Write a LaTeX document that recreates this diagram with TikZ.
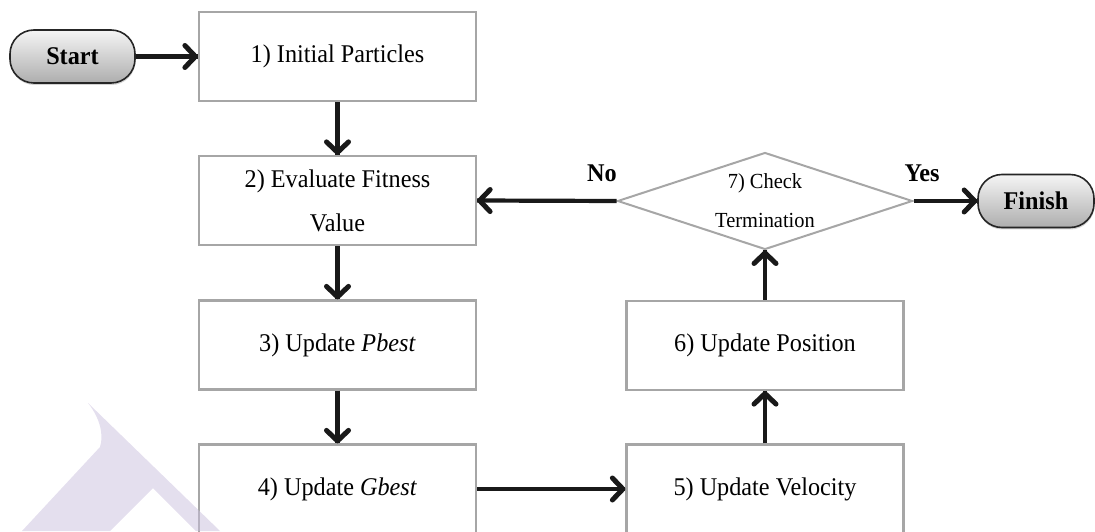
\documentclass[tikz,border=0pt]{standalone}
\usepackage{fontspec}
\setmainfont{Liberation Serif}
\newfontfamily\cond[FakeStretch=0.95]{Liberation Serif}
\usetikzlibrary{shapes.geometric,shadows,decorations.markings}
\definecolor{boxgray}{HTML}{A6A6A6}
\definecolor{wmark}{RGB}{201,191,221}
\begin{document}
\begin{tikzpicture}[x=1pt,y=1pt,
  stepbox/.style={draw=boxgray, line width=2.2pt, fill=white, minimum width=277pt, minimum height=89pt, inner sep=0pt, align=center, font=\cond\fontsize{25.5}{46}\selectfont},
  term/.style={draw=black!85, line width=1.6pt, rounded corners=24pt, top color=black!4, bottom color=black!32, minimum height=53pt, inner sep=0pt, font=\cond\fontsize{25.5}{28}\selectfont\bfseries, drop shadow={shadow xshift=0.5pt, shadow yshift=-2pt, opacity=0.35}},
  dec/.style={diamond, shape aspect=3.04, draw=boxgray, line width=2pt, fill=white, minimum width=295pt, minimum height=97pt, inner sep=0pt, align=center, font=\cond\fontsize{21.5}{39}\selectfont},
  arr/.style={line width=4.2pt, draw=black!90,
    postaction={decorate, decoration={markings, mark=at position 1 with {\draw[black!90, line width=5pt, line cap=round, line join=round] (-13pt,11pt) -- (-2.5pt,0pt) -- (-13pt,-11pt);}}}},
  lbl/.style={font=\cond\fontsize{25.5}{28}\selectfont\bfseries}
]
\useasboundingbox (0,0) rectangle (1095,531);

\node[term, minimum width=125pt] (start) at (72.5,474.5) {Start};
\node[stepbox] (b1) at (337.5,474.5) {1) Initial Particles};
\node[stepbox] (b2) at (337.5,330.5) {\raisebox{-2pt}{2) Evaluate Fitness}\\Value};
\node[stepbox] (b3) at (337.5,186) {3) Update \textit{Pbest}};
\node[stepbox] (b4) at (337.5,42) {4) Update \textit{Gbest}};
\node[stepbox] (b5) at (765,42) {5) Update Velocity};
\node[stepbox] (b6) at (765,185.5) {6) Update Position};
\node[dec] (d7) at (765,330) {7) Check\\Termination};
\node[term, minimum width=116pt] (fin) at (1036,330) {Finish};
\node[lbl] (no) at (602,358) {No};
\node[lbl] (yes) at (922,358) {Yes};

\draw[arr] (start.east) -- (b1.west);
\draw[arr] (b1.south) -- (b2.north);
\draw[arr] (b2.south) -- (b3.north);
\draw[arr] (b3.south) -- (b4.north);
\draw[arr] (b4.east) -- (b5.west);
\draw[arr] (b5.north) -- (b6.south);
\draw[arr] (b6.north) -- (d7.south);
\draw[arr] (d7.west) -- (b2.east);
\draw[arr] (d7.east) -- (fin.west);

% faint watermark
\fill[wmark, opacity=0.5] (88,128) .. controls (100,113) and (104,96) .. (100,84)
  -- (22,0) -- (110,0) -- (153,43) -- (196,0) -- (220,0) -- cycle;
\end{tikzpicture}
\end{document}
